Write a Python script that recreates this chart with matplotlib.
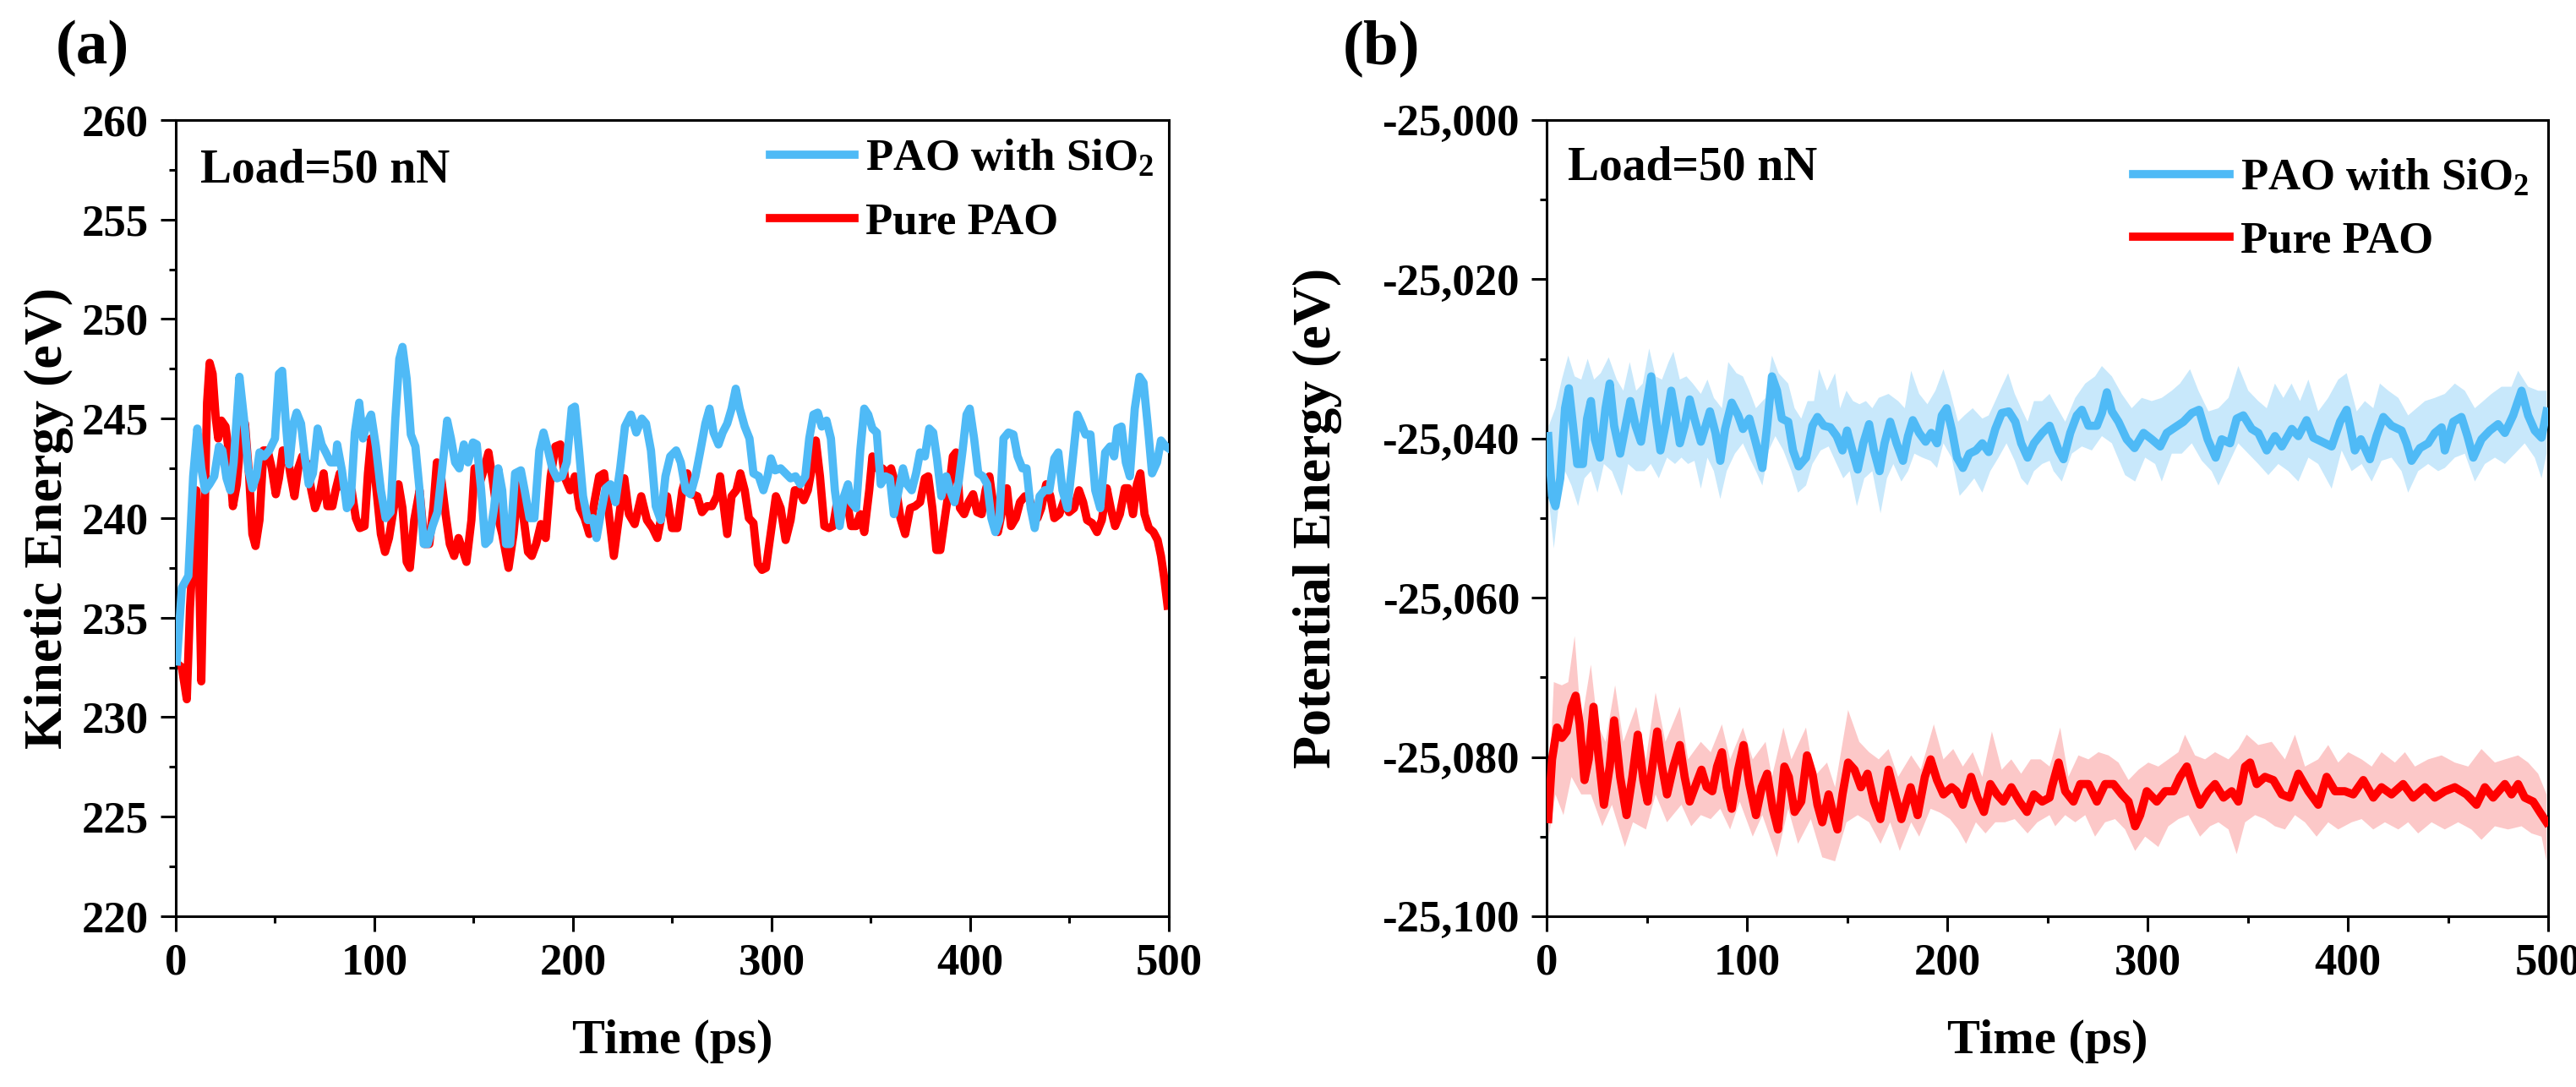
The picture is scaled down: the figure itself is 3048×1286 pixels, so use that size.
import numpy as np
import matplotlib
matplotlib.use("Agg")
from matplotlib import pyplot as plt
from matplotlib.ticker import MultipleLocator, FuncFormatter

plt.rcParams['font.family'] = ['Liberation Serif', 'DejaVu Serif']
plt.rcParams['font.weight'] = 'bold'
plt.rcParams['mathtext.fontset'] = 'custom'
plt.rcParams['mathtext.rm'] = 'Liberation Serif:bold'
plt.rcParams['mathtext.bf'] = 'Liberation Serif:bold'
plt.rcParams['mathtext.it'] = 'Liberation Serif:bold'

BLUE = "#4FBAF6"
RED = "#FF0000"
BLUE_LIGHT = "#C8E8FB"
RED_LIGHT = "#FCC8C8"

# (a) kinetic energy, (time ps, eV)
ke_sio2 = [
    (0.6, 232.8), (3.1, 236.5), (6.4, 237.1), (8.8, 242.1), (10.9, 244.5), (12.9, 242.5), (14.8, 241.4),
    (17.0, 241.7), (19.4, 242.1), (21.8, 243.6), (23.5, 243.4), (25.6, 242.0), (27.5, 241.4), (29.2, 242.8),
    (32.1, 247.1), (34.4, 245.0), (36.5, 242.5), (38.6, 241.5), (40.6, 242.1), (42.2, 243.3), (44.6, 243.1),
    (47.1, 243.4), (50.0, 244.0), (52.0, 247.25), (53.6, 247.4), (55.6, 244.6), (57.2, 242.7), (59.3, 244.75),
    (60.9, 245.3), (63.1, 244.75), (65.0, 243.1), (67.0, 241.7), (69.1, 242.25), (71.5, 244.5), (73.5, 243.7),
    (75.6, 243.3), (78.0, 242.8), (80.5, 242.8), (81.3, 243.7), (83.7, 242.4), (86.2, 240.5), (88.1, 240.8),
    (90.2, 244.3), (92.4, 245.8), (94.3, 244.0), (96.3, 244.75), (98.4, 245.2), (100.8, 243.6), (103.3, 241.4),
    (105.7, 240.0), (108.2, 240.3), (110.6, 245.0), (112.6, 248.0), (114.2, 248.6), (116.3, 247.0), (118.4, 244.2),
    (120.7, 243.6), (122.8, 241.4), (124.9, 238.7), (126.9, 238.7), (129.3, 239.6), (131.8, 240.3), (134.2, 242.5),
    (136.7, 244.9), (138.6, 244.0), (140.7, 242.8), (142.8, 242.5), (145.1, 243.7), (147.2, 242.8), (149.7, 243.8),
    (151.6, 243.7), (153.8, 241.4), (155.9, 238.7), (157.8, 238.9), (160.3, 240.5), (162.4, 242.5), (164.4, 241.4),
    (166.3, 238.7), (168.4, 238.7), (170.9, 242.25), (173.8, 242.4), (175.7, 241.4), (178.2, 240.0), (180.6, 240.0),
    (183.1, 243.4), (185.2, 244.3), (187.5, 243.4), (189.6, 242.5), (192.0, 242.0), (194.5, 242.1), (196.9, 242.8),
    (199.4, 245.5), (201.0, 245.6), (203.1, 243.4), (205.1, 241.1), (207.5, 239.9), (210.0, 240.0), (211.9, 239.0),
    (214.0, 240.2), (216.5, 241.5), (218.9, 241.7), (221.4, 240.8), (223.8, 242.5), (226.2, 244.6), (229.2, 245.2),
    (231.9, 244.3), (234.7, 245.0), (236.8, 244.75), (239.3, 243.4), (241.7, 240.6), (244.2, 239.9), (246.6, 242.1),
    (249.0, 243.1), (252.0, 243.4), (254.3, 242.8), (256.8, 241.4), (259.2, 241.2), (261.7, 242.1), (264.2, 243.4),
    (266.7, 244.75), (268.8, 245.5), (270.8, 244.3), (273.3, 243.7), (275.4, 244.3), (277.7, 244.75), (279.9, 245.5),
    (282.0, 246.5), (284.0, 245.5), (286.5, 244.6), (288.9, 244.0), (290.9, 242.25), (293.6, 242.1), (295.9, 241.4),
    (298.0, 242.1), (299.7, 243.0), (301.8, 242.4), (304.6, 242.5), (307.1, 242.25), (309.6, 242.0), (312.1, 242.1),
    (314.5, 241.7), (317.0, 242.1), (319.0, 244.0), (321.1, 245.2), (323.3, 245.3), (325.3, 244.6), (327.7, 244.9),
    (329.9, 244.0), (331.9, 241.4), (334.3, 239.6), (336.5, 241.1), (338.5, 241.7), (340.1, 240.8), (342.6, 240.5),
    (344.7, 243.4), (346.7, 245.5), (348.7, 245.2), (350.8, 244.5), (353.0, 244.3), (355.0, 241.7), (357.4, 242.1),
    (359.6, 242.0), (361.6, 240.2), (364.0, 241.4), (366.2, 242.5), (368.2, 241.7), (370.6, 241.4), (372.8, 242.25),
    (374.8, 243.3), (377.2, 243.1), (379.4, 244.5), (381.4, 244.3), (383.3, 243.0), (385.5, 241.1), (388.0, 242.1),
    (389.9, 241.4), (392.1, 240.8), (394.2, 241.8), (396.2, 243.4), (398.2, 245.2), (399.8, 245.5), (402.0, 244.0),
    (404.1, 242.25), (406.4, 242.1), (408.6, 241.7), (410.7, 240.0), (412.7, 239.3), (414.7, 239.9), (416.8, 244.0),
    (419.3, 244.3), (421.8, 244.2), (423.9, 243.1), (426.3, 242.5), (428.4, 242.5), (430.5, 240.5), (432.5, 239.5),
    (435.0, 241.1), (437.5, 241.4), (439.9, 241.4), (442.4, 243.0), (444.4, 243.3), (446.5, 241.4), (449.0, 240.5),
    (451.5, 242.8), (454.0, 245.2), (456.0, 244.75), (458.1, 244.2), (460.6, 244.2), (463.0, 241.4), (465.5, 240.5),
    (468.0, 243.3), (470.5, 243.6), (472.5, 243.1), (474.1, 244.5), (476.2, 244.6), (478.4, 242.8), (480.4, 242.1),
    (482.9, 245.5), (485.3, 247.1), (487.3, 246.8), (489.5, 244.6), (491.6, 242.25), (494.1, 242.8), (496.1, 243.9),
    (498.5, 243.6), (500.0, 243.5),
]
ke_pure = [
    (0.6, 232.7), (3.1, 232.5), (5.6, 230.9), (7.2, 235.5), (8.8, 238.4), (10.4, 241.4), (11.6, 238.4),
    (12.9, 231.8), (14.2, 238.4), (15.8, 245.8), (17.1, 247.8), (18.6, 247.25), (20.2, 245.0), (21.4, 244.0),
    (23.0, 244.9), (25.1, 244.6), (26.7, 243.4), (28.8, 240.6), (30.8, 241.7), (32.7, 244.0), (34.9, 244.75),
    (37.0, 242.1), (38.6, 239.2), (40.2, 238.6), (42.2, 239.9), (44.2, 243.4), (46.3, 243.4), (48.4, 242.5),
    (50.4, 241.2), (52.0, 242.0), (53.9, 243.4), (56.0, 243.4), (57.7, 242.25), (59.8, 241.1), (61.7, 242.5),
    (63.7, 243.1), (65.8, 242.8), (68.3, 241.4), (70.2, 240.5), (72.3, 241.1), (74.5, 242.25), (76.4, 240.6),
    (78.9, 240.6), (80.5, 241.4), (82.6, 242.25), (84.5, 241.5), (86.5, 241.4), (88.6, 241.4), (90.7, 240.0),
    (92.7, 239.5), (95.1, 239.6), (96.8, 242.25), (98.4, 244.0), (100.8, 241.7), (103.3, 239.2), (105.4, 238.3),
    (107.4, 239.0), (109.8, 240.5), (112.2, 241.7), (114.2, 240.5), (116.3, 237.8), (117.9, 237.5), (120.1, 239.9),
    (122.8, 241.4), (125.3, 238.7), (127.7, 238.7), (129.8, 240.6), (131.5, 242.8), (133.4, 242.25), (135.9, 240.2),
    (138.0, 238.7), (140.2, 238.1), (142.4, 239.0), (144.5, 238.4), (146.4, 237.8), (148.9, 239.9), (150.5, 242.5),
    (152.9, 241.7), (155.4, 242.5), (157.5, 243.3), (159.5, 242.0), (161.9, 240.2), (164.4, 239.2), (167.6, 237.5),
    (170.1, 239.2), (172.5, 241.7), (174.9, 240.2), (177.4, 238.3), (179.3, 238.1), (181.5, 238.7), (183.9, 239.7),
    (186.3, 239.0), (188.8, 242.1), (191.2, 243.6), (193.7, 243.7), (196.1, 242.0), (198.6, 241.4), (201.0, 242.1),
    (203.4, 240.5), (205.9, 240.0), (208.3, 239.2), (210.8, 240.8), (213.2, 242.1), (215.7, 242.25), (218.1, 240.2),
    (220.6, 238.1), (223.0, 239.9), (225.9, 242.0), (228.2, 240.2), (231.1, 239.7), (234.4, 241.1), (237.3, 239.9),
    (240.1, 239.5), (242.5, 239.0), (245.0, 240.3), (247.4, 241.1), (249.9, 239.5), (252.6, 239.5), (255.1, 241.4),
    (257.6, 242.25), (260.1, 241.2), (262.6, 241.1), (265.0, 240.3), (267.5, 240.6), (270.0, 240.6), (272.5, 241.1),
    (274.1, 242.1), (276.1, 240.5), (277.7, 239.2), (279.9, 241.1), (282.3, 241.4), (284.3, 242.25), (286.5, 241.4),
    (288.6, 240.0), (290.9, 239.75), (293.1, 237.7), (295.2, 237.4), (297.2, 237.5), (299.7, 239.3), (302.2, 241.1),
    (304.6, 240.5), (307.1, 238.9), (309.6, 239.9), (311.7, 241.4), (313.7, 241.4), (316.2, 240.9), (318.3, 241.4),
    (320.3, 242.5), (322.3, 243.9), (324.4, 242.1), (326.6, 239.6), (328.9, 239.5), (331.0, 239.6), (333.2, 240.9),
    (335.2, 240.9), (337.6, 241.1), (340.1, 239.6), (342.6, 239.6), (344.7, 240.2), (346.7, 239.3), (349.2, 241.4),
    (350.8, 243.1), (353.3, 242.5), (355.8, 242.5), (357.9, 242.25), (360.2, 242.5), (362.4, 241.7), (364.9, 240.0),
    (367.3, 239.2), (369.8, 240.5), (372.3, 240.6), (374.8, 240.8), (377.2, 242.0), (378.9, 242.1), (381.0, 240.5),
    (383.0, 238.4), (385.0, 238.4), (387.1, 239.9), (389.3, 241.4), (391.3, 243.1), (392.9, 243.3), (394.9, 240.5),
    (397.0, 240.2), (399.2, 240.8), (401.5, 241.2), (403.6, 240.3), (405.8, 240.2), (407.8, 241.4), (409.7, 242.1),
    (411.9, 240.5), (414.0, 239.3), (416.0, 240.3), (418.5, 241.5), (420.6, 239.6), (423.0, 240.0), (425.1, 240.8),
    (427.6, 241.1), (429.6, 241.1), (431.7, 240.2), (433.9, 240.0), (435.8, 240.5), (438.3, 241.7), (440.4, 241.1),
    (442.4, 240.0), (444.9, 240.2), (447.4, 240.9), (449.8, 240.3), (452.3, 240.5), (454.8, 241.4), (456.9, 240.8),
    (458.9, 239.9), (461.4, 239.75), (463.9, 239.3), (466.3, 239.9), (468.8, 241.5), (470.8, 240.5), (473.0, 239.6),
    (475.4, 240.2), (477.9, 241.5), (479.6, 241.5), (482.0, 240.2), (484.0, 241.7), (485.7, 242.25), (487.8, 240.2),
    (490.0, 239.5), (492.3, 239.3), (494.4, 238.9), (496.1, 238.1), (497.7, 237.0), (499.4, 235.6),
]

# (b) potential energy, smoothed curves (time ps, eV)
pe_sio2 = [
    (0.8, -25039.7), (2.7, -25047.2), (4.4, -25048.5), (6.8, -25045.0), (9.2, -25036.2), (11.1, -25033.7),
    (13.2, -25038.4), (15.3, -25043.2), (18.1, -25043.2), (20.2, -25037.5), (22.1, -25035.3), (24.1, -25040.1),
    (26.6, -25042.4), (29.4, -25036.2), (31.5, -25033.1), (33.7, -25038.4), (36.7, -25041.9), (39.1, -25038.8),
    (41.8, -25035.3), (44.4, -25038.4), (47.1, -25040.4), (49.6, -25036.2), (52.2, -25032.2), (54.4, -25037.1),
    (56.8, -25041.5), (59.3, -25038.4), (62.2, -25034.0), (64.4, -25037.1), (66.5, -25040.6), (68.9, -25038.4),
    (71.4, -25035.1), (73.8, -25037.5), (77.0, -25040.4), (79.4, -25038.4), (81.5, -25036.6), (84.3, -25039.3),
    (86.7, -25042.8), (89.1, -25038.8), (92.4, -25035.5), (95.6, -25037.1), (98.0, -25038.8), (101.2, -25037.5),
    (104.5, -25040.6), (107.7, -25043.7), (110.1, -25038.4), (112.5, -25032.2), (115.0, -25034.0), (117.4, -25037.5),
    (120.6, -25037.9), (123.0, -25041.5), (125.8, -25043.5), (129.5, -25042.4), (132.7, -25038.4), (135.2, -25037.3),
    (138.4, -25038.4), (141.6, -25038.6), (144.8, -25039.7), (147.7, -25041.5), (150.0, -25039.0), (152.6, -25041.5),
    (155.3, -25043.9), (158.1, -25040.6), (161.0, -25038.2), (163.4, -25041.5), (166.2, -25044.1), (168.7, -25040.6),
    (171.5, -25037.9), (174.7, -25040.6), (177.9, -25042.8), (180.4, -25039.7), (182.8, -25037.7), (186.0, -25039.3),
    (189.2, -25040.4), (192.0, -25039.3), (194.9, -25040.6), (197.3, -25037.1), (199.7, -25036.2), (202.2, -25038.8),
    (204.9, -25042.4), (207.8, -25043.7), (211.0, -25041.9), (214.3, -25041.5), (217.5, -25040.6), (220.7, -25041.7),
    (224.0, -25038.8), (227.2, -25036.8), (230.7, -25036.6), (234.0, -25037.9), (236.9, -25040.6), (240.1, -25042.4),
    (243.3, -25040.6), (247.4, -25039.3), (251.1, -25038.4), (255.6, -25041.5), (258.0, -25042.6), (261.4, -25039.3),
    (264.7, -25037.1), (267.2, -25036.4), (270.5, -25038.4), (274.7, -25038.4), (277.2, -25036.8), (279.7, -25034.2),
    (282.2, -25036.6), (285.5, -25037.9), (289.6, -25040.1), (293.5, -25041.2), (298.0, -25039.3), (302.1, -25040.1),
    (306.3, -25041.0), (309.6, -25039.3), (313.7, -25038.6), (317.9, -25037.9), (322.1, -25036.8), (325.7, -25036.4),
    (330.0, -25040.1), (334.0, -25042.4), (337.0, -25040.1), (341.2, -25040.6), (344.5, -25037.5), (347.8, -25037.1),
    (352.0, -25038.8), (355.3, -25039.3), (359.5, -25041.5), (363.6, -25039.7), (367.0, -25041.0), (372.0, -25038.8),
    (375.3, -25039.7), (379.4, -25037.7), (382.8, -25039.9), (387.0, -25040.4), (391.9, -25041.0), (396.1, -25037.9),
    (399.4, -25036.4), (403.5, -25041.5), (406.5, -25040.1), (411.0, -25042.6), (414.3, -25039.7), (417.7, -25037.3),
    (421.8, -25038.4), (426.8, -25039.0), (429.3, -25040.6), (431.8, -25042.8), (436.0, -25041.2), (440.1, -25040.6),
    (443.4, -25039.3), (446.8, -25038.6), (448.4, -25041.5), (452.6, -25037.9), (456.7, -25037.3), (459.7, -25039.7),
    (462.6, -25042.4), (466.7, -25040.1), (470.9, -25039.0), (475.0, -25038.2), (478.4, -25039.3), (482.5, -25037.1),
    (486.7, -25034.0), (490.0, -25037.1), (493.3, -25039.0), (496.7, -25039.9), (499.2, -25036.6),
]
pe_pure = [
    (0.8, -25087.8), (2.7, -25080.3), (5.2, -25076.3), (7.6, -25077.6), (10.0, -25076.8), (12.4, -25073.7),
    (14.5, -25072.3), (16.5, -25075.9), (18.9, -25082.9), (21.0, -25080.3), (23.4, -25073.7), (25.7, -25079.4),
    (28.6, -25086.0), (31.5, -25081.2), (33.7, -25075.4), (36.7, -25082.5), (39.9, -25087.3), (42.8, -25082.5),
    (45.5, -25077.2), (48.3, -25082.9), (50.4, -25085.6), (52.8, -25081.2), (55.2, -25076.8), (57.6, -25081.2),
    (60.1, -25084.7), (63.3, -25081.2), (66.5, -25078.5), (68.9, -25082.5), (71.4, -25085.6), (74.6, -25083.4),
    (77.3, -25081.6), (79.9, -25083.8), (82.7, -25084.3), (85.1, -25081.2), (87.5, -25079.4), (89.9, -25083.8),
    (92.4, -25086.5), (95.6, -25081.6), (98.3, -25078.5), (101.2, -25083.4), (104.5, -25087.3), (107.4, -25083.8),
    (110.1, -25082.1), (112.9, -25086.5), (115.5, -25089.1), (118.7, -25081.2), (120.9, -25082.5), (123.8, -25086.9),
    (127.1, -25085.6), (130.0, -25079.8), (132.7, -25082.1), (135.2, -25086.0), (137.6, -25088.2), (140.8, -25084.7),
    (143.2, -25087.3), (145.2, -25089.1), (147.7, -25084.7), (150.5, -25080.7), (153.7, -25081.6), (156.9, -25083.8),
    (160.2, -25082.1), (163.4, -25085.6), (166.6, -25087.8), (170.7, -25081.6), (173.9, -25084.7), (177.1, -25087.8),
    (181.7, -25083.8), (185.2, -25087.3), (188.8, -25082.5), (191.7, -25080.3), (194.9, -25082.9), (198.1, -25084.7),
    (202.2, -25083.8), (204.6, -25084.3), (207.8, -25086.0), (211.9, -25082.5), (215.1, -25085.1), (218.3, -25086.9),
    (221.5, -25083.4), (224.8, -25084.7), (228.0, -25085.6), (232.0, -25083.8), (236.1, -25085.6), (239.8, -25086.9),
    (243.3, -25084.7), (247.4, -25085.6), (251.1, -25085.1), (252.2, -25083.8), (255.6, -25080.7), (258.9, -25084.3),
    (263.0, -25085.6), (266.4, -25083.4), (270.5, -25083.4), (274.7, -25085.6), (278.8, -25083.4), (283.0, -25083.4),
    (287.1, -25084.7), (290.5, -25085.6), (293.8, -25088.7), (296.3, -25087.3), (299.6, -25084.3), (304.6, -25085.6),
    (308.8, -25084.3), (312.9, -25084.3), (316.2, -25082.5), (319.6, -25081.2), (322.9, -25083.8), (326.2, -25086.0),
    (330.4, -25084.3), (333.7, -25083.4), (337.9, -25085.1), (342.0, -25084.3), (345.3, -25085.6), (348.7, -25081.2),
    (351.2, -25080.7), (354.5, -25083.4), (358.6, -25082.5), (362.8, -25082.9), (367.0, -25084.7), (371.1, -25085.1),
    (375.3, -25082.1), (380.3, -25084.3), (385.2, -25086.0), (389.4, -25082.5), (393.6, -25084.3), (398.5, -25084.3),
    (402.7, -25084.7), (407.7, -25082.9), (412.7, -25085.1), (416.8, -25083.8), (421.8, -25084.7), (427.6, -25083.4),
    (432.6, -25085.1), (438.5, -25083.8), (443.4, -25085.1), (448.4, -25084.3), (453.4, -25083.8), (459.2, -25084.7),
    (464.2, -25086.0), (468.4, -25083.8), (472.5, -25085.1), (478.4, -25083.4), (481.7, -25084.7), (485.0, -25083.4),
    (488.3, -25085.1), (492.5, -25085.6), (495.8, -25086.9), (499.2, -25088.2),
]

# (b) spread of the raw (unsmoothed) traces: upper and lower edges
pe_sio2_hi = [
    (1.1, -25038.4), (4.4, -25036.2), (7.6, -25032.6), (10.8, -25029.6), (14.0, -25032.2), (17.3, -25032.6),
    (20.5, -25030.0), (23.7, -25032.6), (27.0, -25031.8), (31.0, -25029.8), (35.0, -25032.6), (38.3, -25034.0),
    (41.5, -25030.4), (44.7, -25034.0), (48.0, -25033.1), (51.2, -25028.7), (54.4, -25032.2), (57.6, -25032.6),
    (60.9, -25030.4), (63.3, -25029.1), (66.5, -25032.6), (69.8, -25032.2), (73.0, -25033.1), (77.0, -25034.4),
    (80.3, -25032.6), (83.5, -25034.9), (87.5, -25036.2), (90.7, -25030.4), (94.8, -25031.8), (98.0, -25032.2),
    (101.2, -25034.0), (104.5, -25036.2), (109.3, -25034.9), (112.5, -25029.6), (115.8, -25031.8), (120.6, -25033.1),
    (123.8, -25036.2), (127.1, -25037.5), (130.3, -25035.3), (133.5, -25035.3), (136.0, -25031.3), (140.0, -25034.0),
    (144.0, -25031.8), (146.5, -25036.2), (149.7, -25034.0), (153.0, -25035.3), (156.2, -25035.7), (159.4, -25035.3),
    (162.6, -25036.2), (165.8, -25034.9), (170.7, -25034.4), (175.5, -25035.3), (178.8, -25036.2), (182.0, -25031.5),
    (186.0, -25034.4), (190.1, -25035.7), (194.1, -25034.0), (198.1, -25031.3), (201.4, -25034.0), (205.4, -25037.9),
    (208.6, -25037.1), (212.7, -25036.2), (217.5, -25037.5), (220.7, -25037.1), (224.0, -25035.3), (227.2, -25033.5),
    (230.4, -25031.8), (233.7, -25034.4), (236.9, -25036.2), (240.1, -25037.9), (243.3, -25035.3), (247.4, -25035.3),
    (251.1, -25034.4), (253.9, -25035.7), (258.9, -25037.9), (263.9, -25034.9), (268.9, -25033.1), (273.8, -25032.2),
    (277.2, -25030.9), (282.2, -25032.2), (287.1, -25034.4), (292.1, -25036.2), (297.1, -25034.9), (302.1, -25035.3),
    (307.1, -25034.9), (312.1, -25034.0), (316.2, -25033.1), (321.2, -25031.3), (325.4, -25034.0), (330.4, -25036.6),
    (335.4, -25036.2), (340.4, -25034.9), (345.3, -25030.9), (350.3, -25034.0), (355.3, -25035.3), (359.5, -25036.2),
    (363.6, -25033.1), (367.8, -25034.9), (371.9, -25033.1), (376.1, -25035.3), (380.3, -25032.6), (385.2, -25036.6),
    (390.2, -25034.9), (395.2, -25032.6), (399.4, -25031.8), (404.4, -25036.6), (408.5, -25035.3), (412.7, -25036.2),
    (416.0, -25033.1), (420.2, -25034.0), (425.2, -25034.9), (430.1, -25037.1), (434.3, -25036.2), (438.5, -25035.3),
    (443.4, -25034.9), (448.4, -25034.4), (453.4, -25033.1), (458.4, -25034.0), (463.4, -25036.2), (467.6, -25035.3),
    (471.7, -25034.4), (476.7, -25033.5), (481.7, -25033.5), (485.0, -25031.5), (490.0, -25033.5), (495.0, -25034.0),
    (499.2, -25034.0),
]
pe_sio2_lo = [
    (1.1, -25047.6), (3.6, -25053.8), (6.0, -25048.5), (9.2, -25044.1), (12.4, -25045.9), (15.7, -25048.5),
    (18.9, -25045.0), (22.1, -25044.1), (25.4, -25046.8), (28.6, -25043.2), (32.6, -25044.1), (37.5, -25047.2),
    (40.7, -25043.2), (44.7, -25044.1), (48.8, -25044.1), (52.0, -25043.2), (56.0, -25045.0), (60.1, -25042.4),
    (64.1, -25043.2), (67.3, -25042.4), (70.6, -25043.2), (73.8, -25042.8), (77.0, -25046.3), (80.3, -25042.4),
    (83.5, -25044.1), (86.7, -25047.6), (89.9, -25044.1), (94.0, -25041.9), (98.0, -25040.6), (101.2, -25042.4),
    (104.5, -25044.1), (107.7, -25045.9), (110.9, -25041.5), (114.2, -25039.7), (118.2, -25041.5), (122.2, -25044.1),
    (125.5, -25046.8), (129.5, -25045.9), (132.7, -25043.2), (136.8, -25041.5), (140.8, -25041.0), (144.8, -25043.2),
    (148.1, -25045.0), (151.3, -25044.1), (154.9, -25048.5), (158.6, -25045.0), (162.6, -25044.1), (166.7, -25049.4),
    (169.9, -25045.0), (173.1, -25043.2), (177.1, -25045.4), (180.4, -25044.1), (183.6, -25041.9), (187.6, -25042.4),
    (191.7, -25042.8), (194.9, -25043.7), (198.1, -25040.6), (202.2, -25042.4), (206.2, -25047.2), (209.4, -25046.3),
    (213.5, -25045.0), (217.5, -25046.8), (221.5, -25044.1), (225.6, -25042.4), (229.6, -25040.6), (233.7, -25042.8),
    (236.9, -25045.0), (240.1, -25045.9), (243.3, -25044.1), (247.4, -25043.2), (251.1, -25042.8), (253.1, -25044.1),
    (257.2, -25045.4), (262.2, -25041.9), (267.2, -25041.0), (272.2, -25041.5), (277.2, -25039.7), (282.2, -25040.6),
    (288.8, -25044.6), (293.8, -25045.4), (298.8, -25042.4), (303.8, -25043.2), (307.1, -25045.4), (312.1, -25041.9),
    (317.1, -25041.9), (322.1, -25040.6), (327.1, -25042.8), (332.0, -25044.1), (335.4, -25045.9), (340.4, -25043.2),
    (345.3, -25040.6), (350.3, -25041.9), (355.3, -25043.2), (360.3, -25044.6), (365.3, -25043.2), (370.3, -25044.1),
    (375.3, -25045.4), (380.3, -25042.4), (385.2, -25043.2), (391.9, -25046.3), (396.9, -25041.5), (401.9, -25044.1),
    (406.9, -25043.2), (411.9, -25045.4), (416.8, -25042.8), (421.8, -25042.4), (426.8, -25044.1), (430.1, -25046.8),
    (435.1, -25044.1), (440.1, -25043.2), (445.1, -25044.1), (448.4, -25043.7), (453.4, -25042.4), (458.4, -25041.9),
    (463.4, -25045.4), (468.4, -25043.2), (473.4, -25042.4), (478.4, -25043.2), (483.4, -25041.9), (488.3, -25040.6),
    (493.3, -25042.4), (496.7, -25045.0), (499.2, -25041.9),
]
pe_pure_hi = [
    (1.1, -25084.7), (3.6, -25070.6), (7.6, -25071.0), (10.8, -25070.6), (14.0, -25064.8), (17.3, -25075.9),
    (22.1, -25068.4), (25.4, -25075.9), (29.4, -25078.1), (34.2, -25071.0), (38.3, -25078.1), (44.7, -25073.7),
    (49.6, -25080.3), (54.4, -25071.9), (59.3, -25078.1), (66.5, -25073.7), (70.6, -25080.3), (77.0, -25078.1),
    (81.9, -25079.4), (87.5, -25075.9), (91.6, -25080.3), (98.0, -25076.3), (102.9, -25080.3), (109.3, -25078.1),
    (112.5, -25082.5), (118.2, -25076.3), (122.2, -25080.3), (129.5, -25076.3), (133.5, -25082.5), (140.0, -25080.7),
    (144.0, -25083.8), (150.5, -25074.1), (156.1, -25078.1), (161.0, -25079.4), (165.8, -25080.3), (170.7, -25079.0),
    (175.5, -25082.5), (182.0, -25079.8), (186.8, -25081.6), (193.3, -25075.9), (198.1, -25080.3), (203.0, -25079.0),
    (207.8, -25081.2), (212.7, -25079.4), (217.5, -25082.5), (222.3, -25076.8), (227.2, -25081.6), (232.0, -25080.3),
    (236.9, -25082.1), (241.7, -25080.3), (246.6, -25080.3), (251.1, -25081.2), (252.2, -25080.3), (256.4, -25076.3),
    (260.5, -25082.5), (265.5, -25079.8), (270.5, -25080.3), (275.5, -25079.4), (280.5, -25079.8), (285.5, -25080.7),
    (290.5, -25082.9), (295.5, -25081.6), (300.4, -25080.7), (305.4, -25081.2), (310.4, -25080.3), (315.4, -25079.4),
    (318.7, -25077.2), (323.7, -25079.8), (328.7, -25080.3), (333.7, -25079.4), (340.4, -25080.3), (345.3, -25079.0),
    (349.5, -25077.2), (355.3, -25078.5), (362.0, -25078.1), (368.6, -25080.3), (373.6, -25077.2), (378.6, -25081.2),
    (385.2, -25080.3), (390.2, -25078.5), (395.2, -25080.7), (400.2, -25079.4), (406.9, -25080.3), (411.9, -25081.2),
    (416.8, -25079.4), (423.5, -25080.7), (428.5, -25079.4), (433.5, -25081.2), (440.1, -25080.3), (446.8, -25079.8),
    (453.4, -25080.7), (460.1, -25081.2), (466.7, -25079.0), (473.4, -25080.7), (478.4, -25080.3), (485.0, -25079.8),
    (490.0, -25080.7), (495.0, -25082.1), (499.2, -25084.7),
]
pe_pure_lo = [
    (1.1, -25090.0), (4.4, -25084.7), (8.4, -25087.3), (12.4, -25082.5), (17.3, -25084.7), (22.1, -25084.7),
    (27.8, -25088.7), (32.6, -25086.0), (39.1, -25091.3), (43.1, -25088.2), (49.6, -25089.1), (54.4, -25084.7),
    (60.1, -25088.2), (67.3, -25086.0), (72.2, -25088.7), (77.0, -25087.3), (81.9, -25087.8), (86.7, -25086.5),
    (91.6, -25089.1), (96.4, -25085.6), (102.9, -25090.0), (107.7, -25087.3), (115.0, -25092.6), (120.6, -25086.5),
    (125.5, -25090.9), (131.9, -25087.8), (137.6, -25092.6), (144.0, -25093.1), (149.7, -25088.2), (155.3, -25087.3),
    (161.0, -25088.2), (166.7, -25090.9), (171.5, -25088.2), (176.3, -25091.8), (182.0, -25088.2), (186.0, -25090.0),
    (191.7, -25086.5), (196.5, -25087.0), (201.4, -25087.8), (205.4, -25089.1), (209.4, -25090.9), (214.3, -25088.2),
    (219.1, -25089.6), (224.0, -25088.2), (228.8, -25088.2), (233.7, -25087.8), (240.1, -25089.6), (245.0, -25088.2),
    (251.1, -25087.3), (253.9, -25088.7), (258.9, -25087.3), (263.9, -25088.2), (268.9, -25087.3), (273.8, -25090.0),
    (278.8, -25088.2), (283.8, -25087.8), (288.8, -25089.1), (293.8, -25091.8), (298.8, -25090.0), (305.4, -25091.3),
    (310.4, -25088.7), (315.4, -25087.8), (320.4, -25087.3), (326.2, -25090.0), (331.2, -25088.7), (335.4, -25088.2),
    (340.4, -25089.1), (344.5, -25092.2), (348.7, -25088.2), (353.7, -25087.3), (358.6, -25087.8), (363.6, -25088.7),
    (368.6, -25089.1), (373.6, -25087.3), (378.6, -25088.2), (384.4, -25090.0), (390.2, -25088.2), (395.2, -25089.1),
    (401.9, -25088.2), (406.9, -25087.8), (412.7, -25089.1), (418.5, -25088.2), (425.2, -25089.1), (430.1, -25088.2),
    (435.1, -25089.6), (441.8, -25088.2), (448.4, -25089.1), (455.1, -25088.2), (461.7, -25089.1), (466.7, -25090.4),
    (473.4, -25088.7), (480.0, -25089.1), (486.7, -25088.7), (491.7, -25089.6), (496.7, -25090.0), (499.2, -25093.1),
]

LABEL_SIO2 = "PAO with SiO$_2$"
LABEL_PURE = "Pure PAO"


def xy(pairs):
    a = np.array(pairs)
    return a[:, 0], a[:, 1]


def band(ax, hi, lo, color):
    th, vh = xy(hi)
    tl, vl = xy(lo)
    ax.fill(np.concatenate([th, tl[::-1]]), np.concatenate([vh, vl[::-1]]),
            color=color, lw=0, zorder=1)


def style_axes(ax):
    for s in ax.spines.values():
        s.set_linewidth(2.2)
    ax.tick_params(which='both', direction='out', width=2.2, labelsize=38, pad=10,
                   top=False, right=False)
    ax.tick_params(which='major', length=13)
    ax.tick_params(which='minor', length=6)
    ax.set_xlim(0, 500)
    ax.xaxis.set_major_locator(MultipleLocator(100))
    ax.xaxis.set_minor_locator(MultipleLocator(50))
    ax.set_xlabel("Time (ps)", fontsize=42, fontweight='bold', va='center')
    ax.xaxis.set_label_coords(0.5, -0.157)


fig = plt.figure(figsize=(30.48, 12.86), dpi=100)
ax1 = fig.add_axes([0.0682, 0.1571, 0.3855, 0.7325])
ax2 = fig.add_axes([0.6004, 0.1571, 0.3888, 0.7325])

# (a)
t, v = xy(ke_pure)
ax1.plot(t, v, color=RED, lw=7, label=LABEL_PURE, zorder=2, solid_joinstyle='round')
t, v = xy(ke_sio2)
ax1.plot(t, v, color=BLUE, lw=7, label=LABEL_SIO2, zorder=3, solid_joinstyle='round')
ax1.set_ylim(220, 260)
ax1.yaxis.set_major_locator(MultipleLocator(5))
ax1.yaxis.set_minor_locator(MultipleLocator(2.5))
style_axes(ax1)
ax1.set_ylabel("Kinetic Energy (eV)", fontsize=46, fontweight='bold', va='center')
ax1.yaxis.set_label_coords(-0.128, 0.5)
ax1.text(0.025, 0.937, "Load=50 nN", transform=ax1.transAxes, fontsize=40,
         fontweight='bold', va='center', ha='left')
h, l = ax1.get_legend_handles_labels()
ax1.legend(h[::-1], l[::-1], loc='upper left', bbox_to_anchor=(0.598, 0.976), frameon=False,
           fontsize=38, handlelength=1.9, handletextpad=0.25, labelspacing=0.5,
           borderpad=0, borderaxespad=0)

# (b)
band(ax2, pe_sio2_hi, pe_sio2_lo, BLUE_LIGHT)
band(ax2, pe_pure_hi, pe_pure_lo, RED_LIGHT)
t, v = xy(pe_sio2)
ax2.plot(t, v, color=BLUE, lw=7, label=LABEL_SIO2, zorder=3, solid_joinstyle='round')
t, v = xy(pe_pure)
ax2.plot(t, v, color=RED, lw=7, label=LABEL_PURE, zorder=3, solid_joinstyle='round')
ax2.set_ylim(-25100, -25000)
ax2.yaxis.set_major_locator(MultipleLocator(20))
ax2.yaxis.set_minor_locator(MultipleLocator(10))
ax2.yaxis.set_major_formatter(FuncFormatter(lambda val, pos: f"{val:,.0f}"))
style_axes(ax2)
ax2.set_ylabel("Potential Energy (eV)", fontsize=46, fontweight='bold', va='center')
ax2.yaxis.set_label_coords(-0.229, 0.5)
ax2.text(0.021, 0.9395, "Load=50 nN", transform=ax2.transAxes, fontsize=40,
         fontweight='bold', va='center', ha='left')
ax2.legend(loc='upper left', bbox_to_anchor=(0.586, 0.952), frameon=False,
           fontsize=38, handlelength=2.15, handletextpad=0.25, labelspacing=0.5,
           borderpad=0, borderaxespad=0)

fig.text(0.0217, 0.9557, "(a)", fontsize=54, fontweight='bold', va='center', ha='left')
fig.text(0.5213, 0.9557, "(b)", fontsize=54, fontweight='bold', va='center', ha='left')

fig.savefig("out.png", dpi=100)
